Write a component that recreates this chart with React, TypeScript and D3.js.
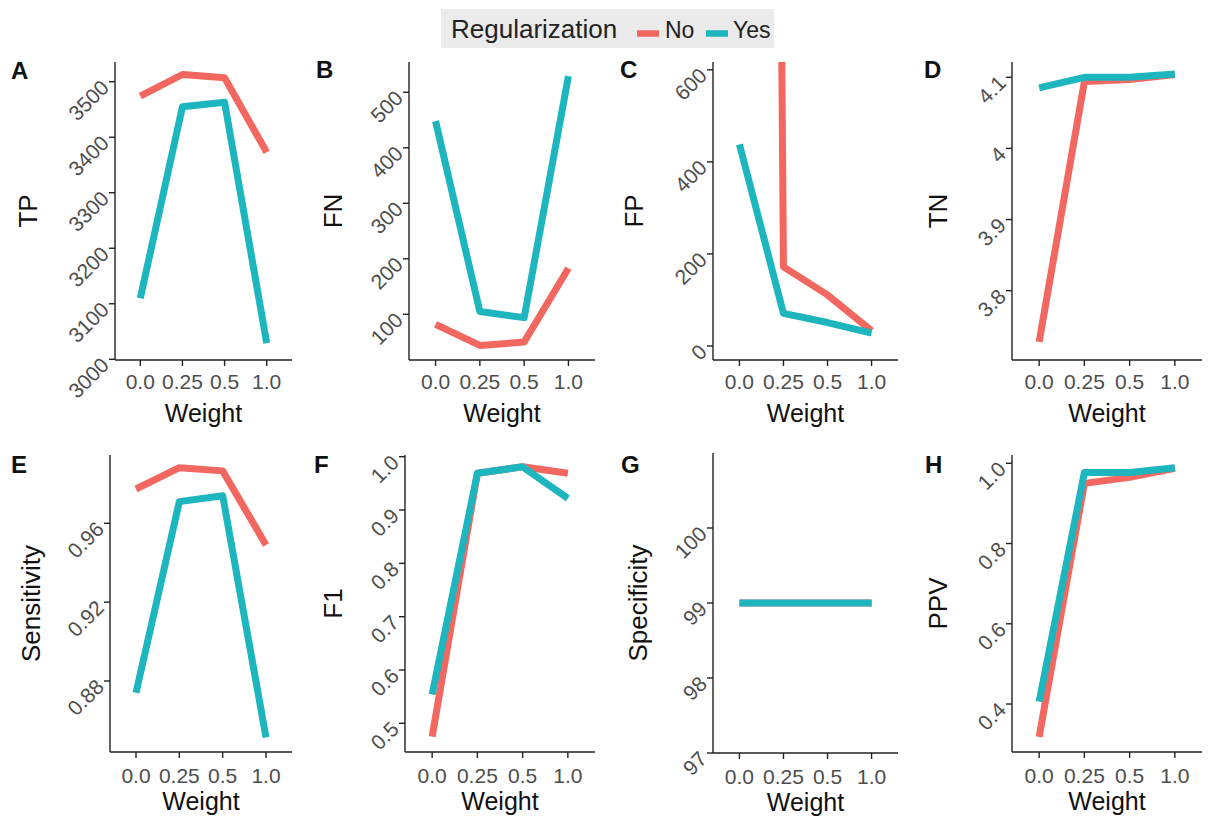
import React from "react";
import * as d3 from "d3";

const weights = ["0.0", "0.25", "0.5", "1.0"];

const tpNo = [3474, 3513, 3507, 3373];
const tpYes = [3110, 3455, 3463, 3029];
const fnNo = [82, 44, 50, 183];
const fnYes = [448, 105, 94, 529];
const fpNo = [12000, 172, 111, 33];
const fpYes = [438, 71, 51, 28];
const tnNo = [3.728, 4.094, 4.097, 4.104];
const tnYes = [4.085, 4.1, 4.1, 4.1045];
const sensNo = [0.9774, 0.9882, 0.9866, 0.949];
const sensYes = [0.874, 0.971, 0.974, 0.8514];
const f1No = [0.475, 0.969, 0.981, 0.969];
const f1Yes = [0.554, 0.969, 0.981, 0.922];
const specNo = [99, 99, 99, 99];
const specYes = [99, 99, 99, 99];
const ppvNo = [0.318, 0.95, 0.965, 0.9875];
const ppvYes = [0.406, 0.977, 0.977, 0.989];

const tpTicks = [3000, 3100, 3200, 3300, 3400, 3500];
const fnTicks = [100, 200, 300, 400, 500];
const fpTicks = [0, 200, 400, 600];
const tnTicks = [3.8, 3.9, 4, 4.1];
const sensTicks = [0.88, 0.92, 0.96];
const f1Ticks = [0.5, 0.6, 0.7, 0.8, 0.9, 1.0];
const specTicks = [97, 98, 99, 100];
const ppvTicks = [0.4, 0.6, 0.8, 1.0];

const seriesNames = ["No", "Yes"];
const COLORS = { No: "#F2675F", Yes: "#1DB6BF" };
const FONT = "'Liberation Sans', Arial, Helvetica, sans-serif";

const fmtPlain = (v: number) => String(v);
const fmt1 = (v: number) => v.toFixed(1);
const fmt2 = (v: number) => v.toFixed(2);

const panels = [
  { letter: "A", title: "TP", no: tpNo, yes: tpYes, domain: [2998.7, 3535.5], ticks: tpTicks, fmt: fmtPlain },
  { letter: "B", title: "FN", no: fnNo, yes: fnYes, domain: [17.7, 554.6], ticks: fnTicks, fmt: fmtPlain },
  { letter: "C", title: "FP", no: fpNo, yes: fpYes, domain: [-30.4, 617], ticks: fpTicks, fmt: fmtPlain },
  { letter: "D", title: "TN", no: tnNo, yes: tnYes, domain: [3.7025, 4.1215], ticks: tnTicks, fmt: fmtPlain },
  { letter: "E", title: "Sensitivity", no: sensNo, yes: sensYes, domain: [0.84398, 0.99465], ticks: sensTicks, fmt: fmt2 },
  { letter: "F", title: "F1", no: f1No, yes: f1Yes, domain: [0.4462, 1.0032], ticks: f1Ticks, fmt: fmt1 },
  { letter: "G", title: "Specificity", no: specNo, yes: specYes, domain: [97, 101], ticks: specTicks, fmt: fmtPlain },
  { letter: "H", title: "PPV", no: ppvNo, yes: ppvYes, domain: [0.2804, 1.0207], ticks: ppvTicks, fmt: fmt1 },
];

// layout frames: y-axis x, x-axis end, top, x-axis y, letter x, title baseline x
const frames = [
  { x0: 115, x1: 292, y0: 62, y1: 360, lx: 11, tx: 37, tickBase: 389, titleBase: 422, letterBase: 79 },
  { x0: 409, x1: 595, y0: 62, y1: 360, lx: 316, tx: 342, tickBase: 389, titleBase: 422, letterBase: 78 },
  { x0: 713, x1: 898, y0: 62, y1: 360, lx: 620, tx: 643, tickBase: 389, titleBase: 422, letterBase: 78 },
  { x0: 1012, x1: 1202, y0: 62, y1: 360, lx: 924, tx: 947, tickBase: 389, titleBase: 422, letterBase: 78 },
  { x0: 110, x1: 292, y0: 455, y1: 752, lx: 11, tx: 40, tickBase: 783, titleBase: 810, letterBase: 473 },
  { x0: 405, x1: 595, y0: 455, y1: 752, lx: 314, tx: 342, tickBase: 783, titleBase: 810, letterBase: 473 },
  { x0: 713, x1: 898, y0: 453, y1: 753, lx: 621, tx: 647, tickBase: 784, titleBase: 811, letterBase: 473 },
  { x0: 1012, x1: 1202, y0: 455, y1: 752, lx: 925, tx: 947, tickBase: 783, titleBase: 810, letterBase: 473 },
];

const LINE_W = 7;
const TICK = 6;

function Panel({ cfg, frame, idx }: any) {
  const x = d3.scalePoint<string>().domain(weights).range([frame.x0, frame.x1]).padding(0.6);
  const y = d3.scaleLinear().domain(cfg.domain).range([frame.y1, frame.y0]);
  const line = d3
    .line<number>()
    .x((_d, i) => x(weights[i]) as number)
    .y((d) => y(d));
  const clipId = `clip-${idx}`;
  const cy = (frame.y0 + frame.y1) / 2;
  const cx = (frame.x0 + frame.x1) / 2;
  return (
    <g>
      <defs>
        <clipPath id={clipId}>
          <rect x={frame.x0} y={frame.y0} width={frame.x1 - frame.x0} height={frame.y1 - frame.y0} />
        </clipPath>
      </defs>
      <g clipPath={`url(#${clipId})`}>
        {seriesNames.map((s) => (
          <path
            key={s}
            d={line(s === "No" ? cfg.no : cfg.yes) || ""}
            fill="none"
            stroke={(COLORS as any)[s]}
            strokeWidth={LINE_W}
            strokeLinejoin="round"
            strokeLinecap="butt"
          />
        ))}
      </g>
      <line x1={frame.x0} x2={frame.x0} y1={frame.y0} y2={frame.y1} stroke="#222" strokeWidth={1.4} />
      <line x1={frame.x0} x2={frame.x1} y1={frame.y1} y2={frame.y1} stroke="#222" strokeWidth={1.4} />
      {cfg.ticks.map((t: number) => (
        <g key={t}>
          <line x1={frame.x0 - TICK} x2={frame.x0} y1={y(t)} y2={y(t)} stroke="#222" strokeWidth={1.4} />
          <text
            transform={`translate(${frame.x0 - TICK - 4},${y(t) + 2}) rotate(-45)`}
            textAnchor="end"
            dy="0.35em"
            fontSize={21}
            fill="#4D4D4D"
            fontFamily={FONT}
          >
            {cfg.fmt(t)}
          </text>
        </g>
      ))}
      {weights.map((w) => (
        <g key={w}>
          <line x1={x(w)} x2={x(w)} y1={frame.y1} y2={frame.y1 + TICK} stroke="#222" strokeWidth={1.4} />
          <text x={x(w)} y={frame.tickBase} textAnchor="middle" fontSize={21} fill="#4D4D4D" fontFamily={FONT}>
            {w}
          </text>
        </g>
      ))}
      <text x={cx} y={frame.titleBase} textAnchor="middle" fontSize={25} fill="#111" fontFamily={FONT}>
        Weight
      </text>
      <text
        transform={`translate(${frame.tx},${cy}) rotate(-90)`}
        textAnchor="middle"
        fontSize={26}
        fill="#111"
        fontFamily={FONT}
      >
        {cfg.title}
      </text>
      <text x={frame.lx} y={frame.letterBase} fontSize={24} fontWeight="bold" fill="#111" fontFamily={FONT}>
        {cfg.letter}
      </text>
    </g>
  );
}

function Legend() {
  const keyY = 33.5;
  return (
    <g>
      <rect x={441} y={9} width={333} height={39} fill="#EBEBEB" />
      <text x={451} y={38} fontSize={26} fill="#222" fontFamily={FONT}>
        Regularization
      </text>
      <line x1={637} x2={659} y1={keyY} y2={keyY} stroke={COLORS.No} strokeWidth={6.5} />
      <text x={665} y={38} fontSize={23} fill="#222" fontFamily={FONT}>
        {seriesNames[0]}
      </text>
      <line x1={706} x2={728} y1={keyY} y2={keyY} stroke={COLORS.Yes} strokeWidth={6.5} />
      <text x={733} y={38} fontSize={23} fill="#222" fontFamily={FONT}>
        {seriesNames[1]}
      </text>
    </g>
  );
}

export default function App() {
  return (
    <svg
      width={1208}
      height={821}
      style={{ position: "absolute", left: 0, top: 0, background: "#fff", display: "block" }}
    >
      <rect x={0} y={0} width={1208} height={821} fill="#fff" />
      <Legend />
      {panels.map((p, i) => (
        <Panel key={p.letter} cfg={p} frame={frames[i]} idx={i} />
      ))}
    </svg>
  );
}
